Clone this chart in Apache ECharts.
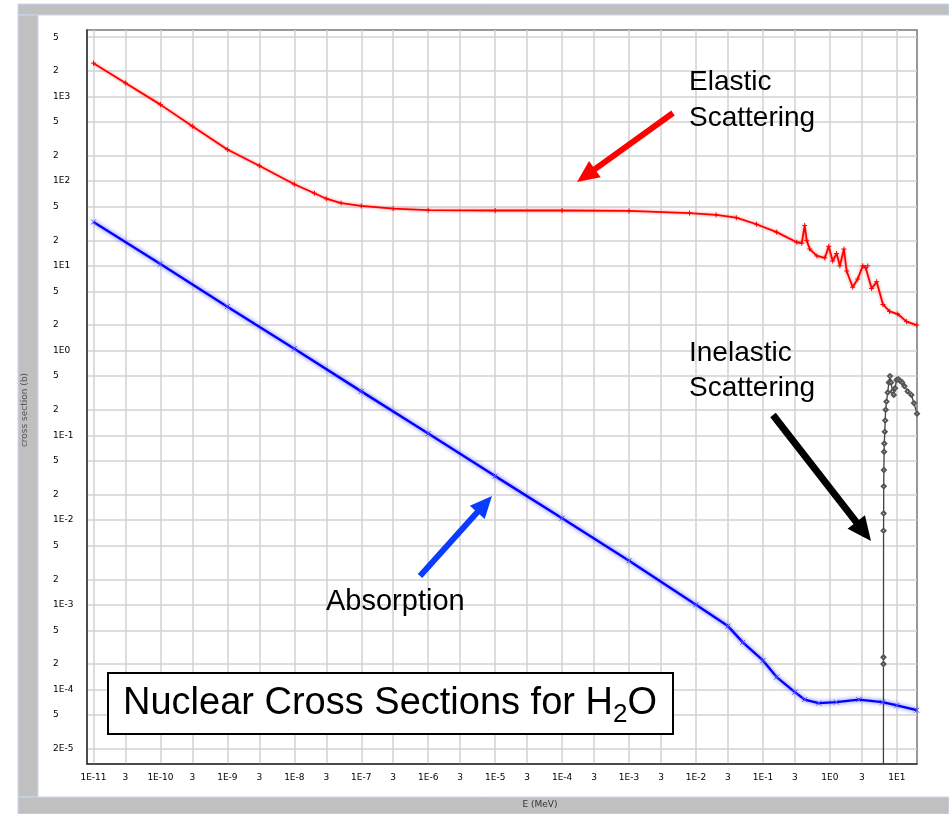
<!DOCTYPE html>
<html>
<head>
<meta charset="utf-8">
<title>Nuclear Cross Sections for H2O</title>
<script src="https://cdn.jsdelivr.net/npm/echarts@6/dist/echarts.min.js"></script>
<style>
  html, body { margin: 0; padding: 0; background: #fff; }
  #chart { width: 949px; height: 814px; }
</style>
</head>
<body>
<div id="chart"></div>
<script>
  // energy in MeV, cross section in barns
  var elasticE = [1e-11, 3e-11, 1e-10, 3e-10, 1e-9, 3e-9, 1e-8, 2e-8, 3e-8, 5e-8, 1e-7, 3e-7, 1e-6, 1e-5, 1e-4, 1e-3,
    8e-3, 0.02, 0.04, 0.08, 0.16, 0.32, 0.38, 0.42, 0.45, 0.5, 0.64, 0.84, 0.96, 1.1, 1.26, 1.41, 1.62, 1.78,
    2.19, 2.6, 3.1, 3.43, 3.67, 4.2, 5.0, 6.2, 7.8, 10.3, 14, 19.8]
  var elasticXs = [2470, 1440, 800, 445, 236, 152, 92, 72, 62, 55, 51, 47.5, 45.5, 45, 45, 44.5,
    42, 40, 37, 31, 25, 19, 18.5, 30, 20, 15.8, 13.1, 12.4, 17, 11.4, 14, 10, 15.8, 8.7,
    5.6, 7, 10, 9.5, 10, 5.4, 6.5, 3.5, 2.9, 2.7, 2.2, 2.0]

  var absorptionE = [1e-11, 1e-10, 1e-9, 1e-8, 1e-7, 1e-6, 1e-5, 1e-4, 1e-3, 1e-2, 0.03, 0.05, 0.1, 0.16,
    0.3, 0.42, 0.68, 1.25, 2.7, 6.1, 10, 19.8]
  var absorptionXs = [33, 10.5, 3.3, 1.05, 0.33, 0.105, 0.033, 0.0105, 3.3e-3, 1.0e-3, 5.6e-4, 3.6e-4, 2.2e-4, 1.4e-4,
    9.3e-5, 7.6e-5, 6.9e-5, 7.1e-5, 7.6e-5, 7.1e-5, 6.5e-5, 5.7e-5]

  var inelasticE = [6.30, 6.31, 6.315, 6.33, 6.35, 6.37, 6.40, 6.45, 6.5, 6.6, 6.7, 6.8, 7.0, 7.3, 7.6, 7.9,
    8.2, 8.6, 9.0, 9.4, 9.9, 10.5, 11.2, 12, 13, 14.5, 16.5, 18, 20]
  var inelasticXs = [1e-6, 2.0e-4, 2.4e-4, 7.5e-3, 0.012, 0.025, 0.039, 0.064, 0.08, 0.11, 0.15, 0.2, 0.25, 0.32, 0.42, 0.5,
    0.42, 0.33, 0.30, 0.36, 0.45, 0.46, 0.44, 0.42, 0.38, 0.33, 0.30, 0.24, 0.18]

  var xTicks = [1e-11, 3e-11, 1e-10, 3e-10, 1e-9, 3e-9, 1e-8, 3e-8, 1e-7, 3e-7, 1e-6, 3e-6, 1e-5, 3e-5,
    1e-4, 3e-4, 1e-3, 3e-3, 1e-2, 3e-2, 1e-1, 3e-1, 1, 3, 10]
  var xTickLabels = ['1E-11', '3', '1E-10', '3', '1E-9', '3', '1E-8', '3', '1E-7', '3', '1E-6', '3', '1E-5', '3',
    '1E-4', '3', '1E-3', '3', '1E-2', '3', '1E-1', '3', '1E0', '3', '1E1']
  var yTicks = [2e-5, 5e-5, 1e-4, 2e-4, 5e-4, 1e-3, 2e-3, 5e-3, 1e-2, 2e-2, 5e-2, 0.1, 0.2, 0.5,
    1, 2, 5, 10, 20, 50, 100, 200, 500, 1000, 2000, 5000]
  var yTickLabels = ['2E-5', '5', '1E-4', '2', '5', '1E-3', '2', '5', '1E-2', '2', '5', '1E-1', '2', '5',
    '1E0', '2', '5', '1E1', '2', '5', '1E2', '2', '5', '1E3', '2', '5']

  function zip(xs, ys) {
    return xs.map(function (x, i) { return [x, ys[i]] })
  }

  function tickLabel(ticks, labels) {
    return function (v) {
      var lv = Math.log10(v)
      for (var i = 0; i < ticks.length; i++) {
        if (Math.abs(Math.log10(ticks[i]) - lv) < 1e-6) return labels[i]
      }
      return ''
    }
  }

  // arrow = thick shaft + triangular head
  function arrow(x1, y1, x2, y2, color, width, headLen, headHalf) {
    var dx = x2 - x1, dy = y2 - y1
    var len = Math.sqrt(dx * dx + dy * dy)
    var ux = dx / len, uy = dy / len
    var bx = x2 - ux * headLen, by = y2 - uy * headLen
    return [
      {
        type: 'line', z: 100,
        shape: { x1: x1, y1: y1, x2: bx + ux * 2, y2: by + uy * 2 },
        style: { stroke: color, lineWidth: width }
      },
      {
        type: 'polygon', z: 100,
        shape: { points: [[x2, y2], [bx - uy * headHalf, by + ux * headHalf], [bx + uy * headHalf, by - ux * headHalf]] },
        style: { fill: color }
      }
    ]
  }

  var band = '#c0c0c0'
  var bandEdge = '#c6d8ec'
  var annotFont = '28px "Liberation Sans", Arial, sans-serif'

  var graphics = [
    { type: 'rect', z: -5, shape: { x: 18, y: 4, width: 931, height: 11 }, style: { fill: band, stroke: bandEdge, lineWidth: 1 } },
    { type: 'rect', z: -5, shape: { x: 18, y: 15, width: 20, height: 782 }, style: { fill: band, stroke: bandEdge, lineWidth: 1 } },
    { type: 'rect', z: -5, shape: { x: 18, y: 797, width: 931, height: 17 }, style: { fill: band, stroke: bandEdge, lineWidth: 1 } },
    { type: 'text', z: 100, x: 689, y: 82, style: { text: 'Elastic', font: annotFont, fill: '#000', verticalAlign: 'middle' } },
    { type: 'text', z: 100, x: 689, y: 118, style: { text: 'Scattering', font: annotFont, fill: '#000', verticalAlign: 'middle' } },
    { type: 'text', z: 100, x: 689, y: 353, style: { text: 'Inelastic', font: annotFont, fill: '#000', verticalAlign: 'middle' } },
    { type: 'text', z: 100, x: 689, y: 388, style: { text: 'Scattering', font: annotFont, fill: '#000', verticalAlign: 'middle' } },
    { type: 'text', z: 100, x: 326, y: 602, style: { text: 'Absorption', font: '29px "Liberation Sans", Arial, sans-serif', fill: '#000', verticalAlign: 'middle' } },
    {
      type: 'rect', z: 100,
      shape: { x: 108, y: 673, width: 565, height: 61 },
      style: { fill: '#fff', stroke: '#000', lineWidth: 2 }
    },
    {
      type: 'text', z: 101, x: 123, y: 704,
      style: {
        text: '{a|Nuclear Cross Sections for H}{s|2}{a|O}',
        verticalAlign: 'middle',
        rich: {
          a: { fontFamily: '"Liberation Sans", Arial, sans-serif', fontSize: 38, lineHeight: 48, fill: '#000', verticalAlign: 'middle' },
          s: { fontFamily: '"Liberation Sans", Arial, sans-serif', fontSize: 26, lineHeight: 26, fill: '#000', verticalAlign: 'bottom' }
        }
      }
    }
  ]
  graphics = graphics
    .concat(arrow(673, 113, 577, 182, '#ff0000', 6, 22, 10))
    .concat(arrow(420, 576, 492, 496, '#0a3cff', 6, 22, 10))
    .concat(arrow(773, 415, 871, 541, '#000000', 7, 24, 11))

  var chart = echarts.init(document.getElementById('chart'))

  chart.setOption({
    animation: false,
    backgroundColor: '#fff',
    grid: {
      left: 87, right: 32, top: 30, bottom: 47,
      show: true, borderColor: '#777', borderWidth: 1.5, backgroundColor: '#fff'
    },
    xAxis: {
      type: 'log',
      logBase: 10,
      min: 8e-12,
      max: 20,
      name: 'E (MeV)',
      nameLocation: 'middle',
      nameGap: 36,
      nameTextStyle: { fontFamily: 'DejaVu Sans', fontSize: 9, color: '#333', padding: [0, 0, 0, 76] },
      axisLine: { show: true, lineStyle: { color: '#333', width: 1.5 } },
      axisTick: { show: false, customValues: xTicks },
      axisLabel: {
        customValues: xTicks,
        formatter: tickLabel(xTicks, xTickLabels),
        margin: 9,
        fontFamily: 'DejaVu Sans',
        fontSize: 9,
        color: '#000'
      },
      splitLine: { show: true, lineStyle: { color: '#d2d2d2', width: 1.5 } },
      minorTick: { show: false },
      minorSplitLine: { show: false }
    },
    yAxis: {
      type: 'log',
      logBase: 10,
      min: 1.32e-5,
      max: 6.08e3,
      name: 'cross section (b)',
      nameLocation: 'middle',
      nameGap: 58,
      nameRotate: 90,
      nameTextStyle: { fontFamily: 'DejaVu Sans', fontSize: 9, color: '#555', padding: [0, 26, 0, 0] },
      axisLine: { show: true, lineStyle: { color: '#333', width: 1.5 } },
      axisTick: { show: false, customValues: yTicks },
      axisLabel: {
        customValues: yTicks,
        formatter: tickLabel(yTicks, yTickLabels),
        align: 'left',
        margin: 34,
        fontFamily: 'DejaVu Sans',
        fontSize: 9,
        color: '#000'
      },
      splitLine: { show: true, lineStyle: { color: '#d2d2d2', width: 1.5 } },
      minorTick: { show: false },
      minorSplitLine: { show: false }
    },
    graphic: graphics,
    series: [
      {
        name: 'Elastic Scattering',
        type: 'line',
        data: zip(elasticE, elasticXs),
        symbol: 'path://M5,0V10M0,5H10',
        symbolSize: 5,
        itemStyle: { color: '#ff0000', borderColor: '#ff0000', borderWidth: 1 },
        lineStyle: { color: '#ff0000', width: 1.8, shadowColor: 'rgba(255,60,60,0.7)', shadowBlur: 3 },
        clip: true
      },
      {
        name: 'Absorption',
        type: 'line',
        data: zip(absorptionE, absorptionXs),
        symbol: 'path://M0,0L10,10M10,0L0,10',
        symbolSize: 5,
        itemStyle: { color: '#5050ff', borderColor: '#5050ff', borderWidth: 1 },
        lineStyle: { color: '#0000ff', width: 2.4, shadowColor: 'rgba(70,70,255,0.9)', shadowBlur: 4 },
        clip: true
      },
      {
        name: 'Inelastic Scattering',
        type: 'line',
        data: zip(inelasticE, inelasticXs),
        symbol: 'emptyDiamond',
        symbolSize: 4,
        itemStyle: { color: '#555', borderColor: '#555', borderWidth: 1 },
        lineStyle: { color: '#404040', width: 1.3 },
        clip: true
      }
    ]
  })
</script>
</body>
</html>
